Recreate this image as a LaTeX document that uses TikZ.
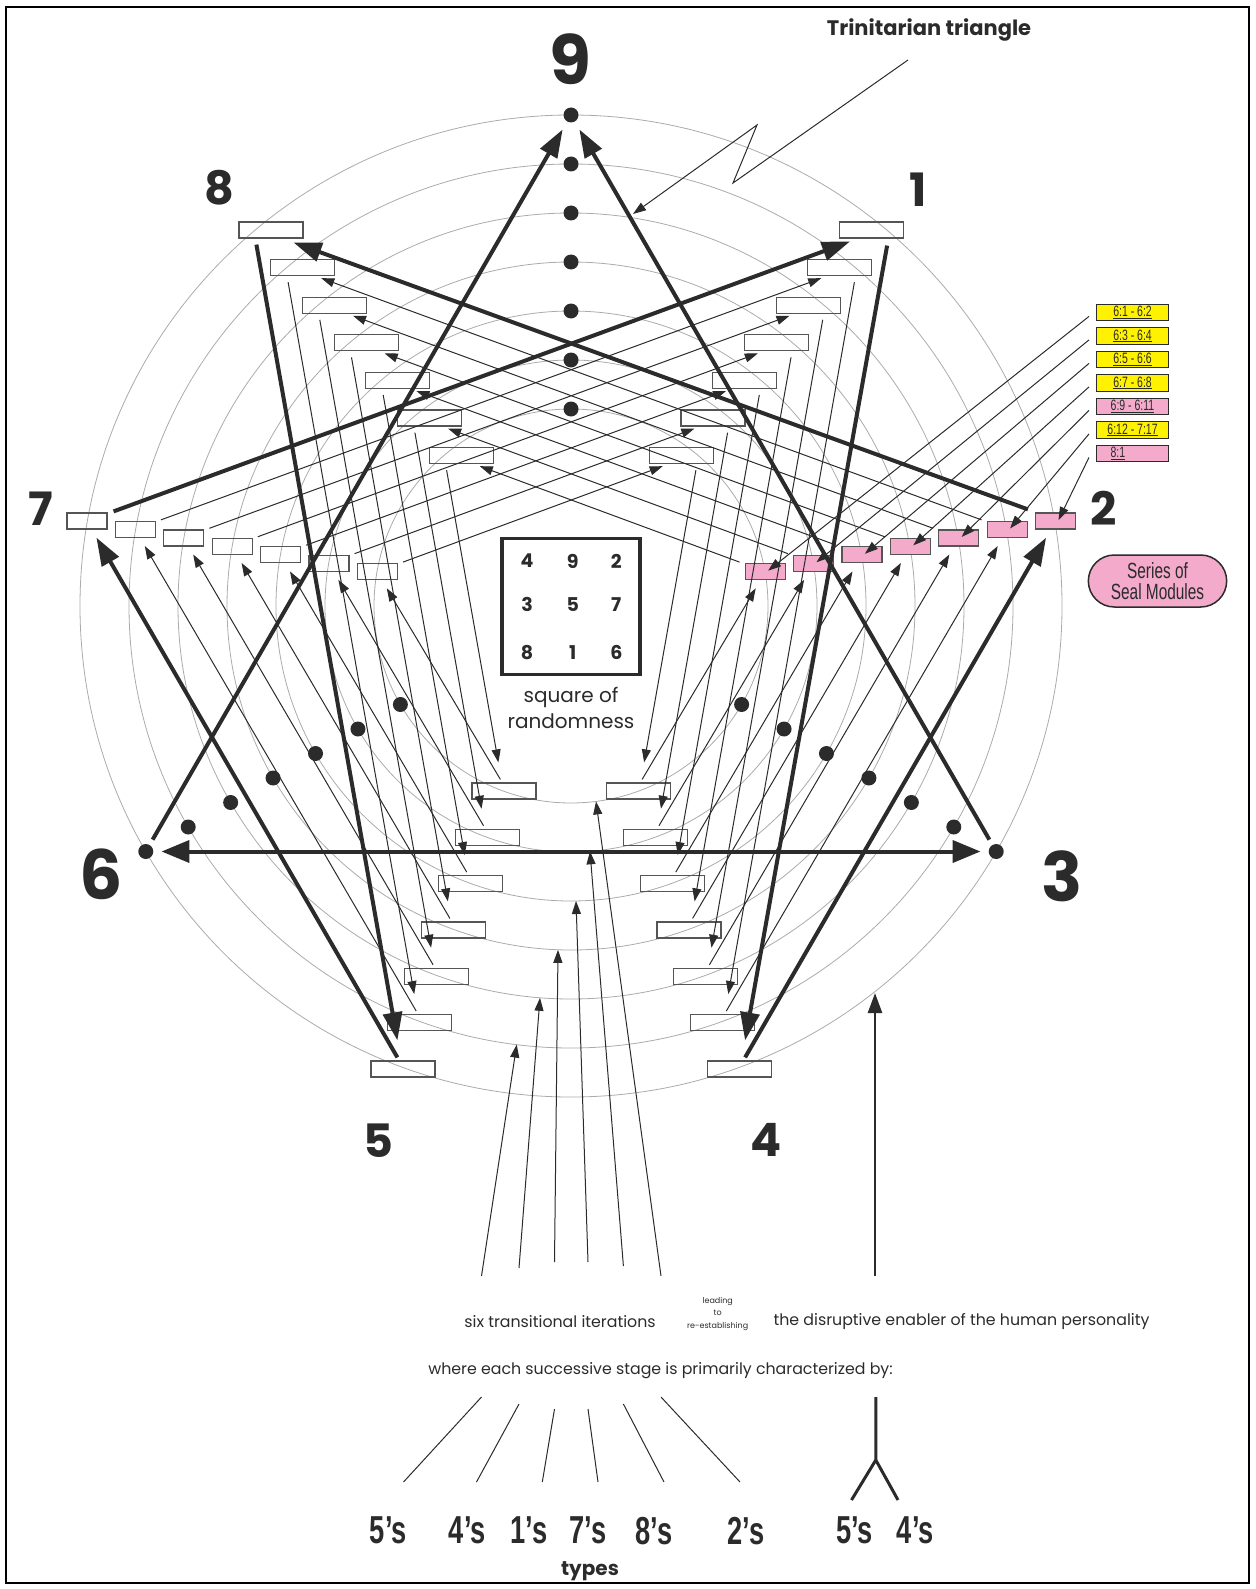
\documentclass[tikz,border=0pt]{standalone}
\usepackage{fontspec}
\setmainfont{Poppins}
\newfontfamily\narrowfont[FakeStretch=0.7]{Liberation Sans}
\usetikzlibrary{arrows.meta,calc,shapes.misc}

\definecolor{ink}{HTML}{2B2B2B}
\definecolor{ringgray}{HTML}{ABABAB}
\definecolor{sealpink}{HTML}{F4AACB}
\definecolor{verseyellow}{HTML}{FFF200}

\tikzset{
  ring/.style={draw=ringgray, line width=0.8pt},
  stagebox/.style={draw=ink!80, line width=1.2pt, inner sep=0pt, minimum height=16pt},
  sealbox/.style={stagebox, fill=sealpink},
  heavyarrow/.style={draw=ink, line width=4pt, -{Triangle[length=28pt,width=19pt]}},
  lightarrow/.style={draw=ink, line width=1pt, -{Triangle[length=13pt,width=9pt]}},
  rungdot/.style={circle, fill=ink, inner sep=0pt, minimum size=15pt},
  bignum/.style={text=ink, font=\fontsize{68}{68}\selectfont\bfseries},
  pointnum/.style={text=ink, font=\fontsize{46}{46}\selectfont\bfseries},
  versetag/.style={draw=ink, line width=1pt, inner sep=0pt, minimum width=72pt, minimum height=16.5pt, text=ink, font=\narrowfont\fontsize{15}{15}\selectfont},
  typelabel/.style={text=ink, font=\narrowfont\bfseries\fontsize{39}{39}\selectfont},
  caption/.style={text=ink, font=\fontsize{15.8}{15.8}\selectfont},
}

\begin{document}
\begin{tikzpicture}[x=1pt,y=-1pt]
    \useasboundingbox (0,0) rectangle (1255,1589);
    \draw[line width=2pt] (6,7) rectangle (1249,1583);
    \coordinate (C) at (571,606);

    % rings
    \foreach \k in {1,...,7}{
        \pgfmathsetmacro\r{491-49*(\k-1)}
        \draw[ring] (C) circle[radius=\r pt];
    }

    % stage boxes of 8/1, 7/2, 5/4
    \foreach \k in {1,...,7}{
        \pgfmathsetmacro\xa{271+31.7*(\k-1)}
        \pgfmathsetmacro\ya{230+37.6*(\k-1)}
        \node[stagebox, minimum width=64pt] (p8-\k) at (\xa,\ya) {};
        \node[stagebox, minimum width=64pt] (p1-\k) at ({1142.5-\xa},\ya) {};
        \pgfmathsetmacro\xb{87+48.4*(\k-1)}
        \pgfmathsetmacro\yb{521+8.45*(\k-1)}
        \node[stagebox, minimum width=40pt] (p7-\k) at (\xb,\yb) {};
        \node[sealbox, minimum width=40pt] (p2-\k) at ({1142.5-\xb},\yb) {};
        \pgfmathsetmacro\xc{403+16.83*(\k-1)}
        \pgfmathsetmacro\yc{1069-46.33*(\k-1)}
        \node[stagebox, minimum width=64pt] (p5-\k) at (\xc,\yc) {};
        \node[stagebox, minimum width=64pt] (p4-\k) at ({1142.5-\xc},\yc) {};
    }

    % hexad 1-4-2-8-5-7-1, thin iterations
    \foreach \k in {2,...,7}{
        \draw[lightarrow] ($(p8-\k.south west)+(18,6)$) -- ($(p5-\k.north west)+(27,-20)$);
        \draw[lightarrow] ($(p1-\k.south east)+(-18,6)$) -- ($(p4-\k.north east)+(-27,-20)$);
        \draw[lightarrow] ($(p5-\k.north west)+(29,-3)$) -- ($(p7-\k.south west)+(30,8)$);
        \draw[lightarrow] ($(p4-\k.north east)+(-29,-3)$) -- ($(p2-\k.south east)+(-30,8)$);
        \draw[lightarrow] ($(p7-\k.north east)+(5,-1)$) -- ($(p1-\k.south west)+(14,2)$);
        \draw[lightarrow] ($(p2-\k.north west)+(-5,-1)$) -- ($(p8-\k.south east)+(-14,2)$);
    }
    \draw[heavyarrow] ($(p8-1.south west)+(18,6)$) -- ($(p5-1.north west)+(27,-20)$);
    \draw[heavyarrow] ($(p1-1.south east)+(-17,7)$) -- ($(p4-1.north east)+(-27,-20)$);
    \draw[heavyarrow] ($(p5-1.north west)+(27,-3)$) -- ($(p7-1.south west)+(30,8)$);
    \draw[heavyarrow] ($(p4-1.north east)+(-27,-3)$) -- ($(p2-1.south east)+(-30,8)$);
    \draw[heavyarrow] ($(p7-1.north east)+(6,-1)$) -- ($(p1-1.south west)+(11,3)$);
    \draw[heavyarrow] ($(p2-1.north west)+(-7,-3)$) -- ($(p8-1.south east)+(-10,4)$);

    % dots of 9, 6 and 3
    \foreach \k in {1,...,7}{
        \pgfmathsetmacro\r{491-49*(\k-1)}
        \node[rungdot] (d9-\k) at ($(C)+(-90:\r)$) {};
        \node[rungdot] (d6-\k) at ($(C)+(150:\r)$) {};
        \node[rungdot] (d3-\k) at ($(C)+(30:\r)$) {};
    }

    % triangle 9-6-3
    \draw[heavyarrow, shorten <=6pt, shorten >=9pt] (d6-1) -- (d9-1);
    \draw[heavyarrow, shorten <=6pt, shorten >=9pt] (d3-1) -- (d9-1);
    \draw[heavyarrow, {Triangle[length=28pt,width=22pt]}-{Triangle[length=28pt,width=22pt]}, shorten <=8pt, shorten >=8pt] (d6-1) -- (d3-1);

    % numbers
    \node[bignum] (n9) at (570.7,58.8) {9};
    \node[bignum] (n6) at (101.4,873.8) {6};
    \node[bignum] (n3) at (1061.7,876.7) {3};
    \node[pointnum] (n8) at (219.3,187.3) {8};
    \node[pointnum] (n1) at (918.5,189.6) {1};
    \node[pointnum] (n7) at (41.3,508.8) {7};
    \node[pointnum] (n2) at (1103.3,508.3) {2};
    \node[pointnum] (n5) at (378,1140.4) {5};
    \node[pointnum] (n4) at (766.5,1140.4) {4};

    % trinitarian triangle
    \node[text=ink, font=\fontsize{21}{21}\selectfont\bfseries] (trin) at (929,30) {Trinitarian triangle};
    \coordinate (z0) at (908,60);
    \coordinate (z1) at (733,183);
    \coordinate (z2) at (757,125);
    \coordinate (z3) at (633,214);
    \draw[lightarrow] (z0) -- (z1) -- (z2) -- (z3);

    % square of randomness
    \node[draw=ink, line width=3.5pt, minimum width=138pt, minimum height=136pt, inner sep=0pt] (magic) at (571.2,606.3) {};
    \foreach \n/\x/\y in {4/527/561, 9/572.7/561, 2/616.3/561, 3/527/604.5, 5/572.7/604.5, 7/616.3/604.5, 8/527/652.5, 1/572.7/652.5, 6/616.3/652.5}
        \node[text=ink, font=\fontsize{19}{19}\selectfont\bfseries] (m\n) at (\x,\y) {\n};
    \node[text=ink, align=center, font=\fontsize{20}{26.5}\selectfont] (sqcap) at (571,708) {square of\\randomness};

    % seal module tags
    \foreach \t/\c [count=\i] in {6:1 - 6:2/verseyellow, 6:3 - 6:4/verseyellow, 6:5 - 6:6/verseyellow, 6:7 - 6:8/verseyellow, 6:9 - 6:11/sealpink, 6:12 - 7:17/verseyellow}{
        \node[versetag, fill=\c] (tag\i) at (1132.5,{312.4+23.5*(\i-1)}) {\underline{\t}};
    }
    \node[versetag, fill=sealpink, text width=44pt] (tag7) at (1132.5,453.4) {\underline{8:1}};
    \foreach \i in {1,...,7}{
        \pgfmathtruncatemacro\j{8-\i}
        \draw[lightarrow] ($(tag\i.west)+(-7,4)$) -- ($(p2-\j.center)+(3,-1)$);
    }
    \node[rounded rectangle, draw=ink, line width=1.5pt, fill=sealpink, minimum width=145pt, minimum height=52pt, align=center, text=ink, font=\narrowfont\fontsize{22}{21}\selectfont] (seal) at (1157.5,581) {Series of\\Seal Modules};

    % iterations pointing to the rings
    \foreach \i/\xs/\ys/\xe/\ye in {1/481.5/1276/516.7/1044.6, 2/519/1268/540/997.8, 3/554.5/1262/558/949.8, 4/588/1262/576/901, 5/623.4/1266/590/851.3, 6/661/1276/596/801.4}{
        \coordinate (is\i) at (\xs,\ys);
        \coordinate (ie\i) at (\xe,\ye);
        \draw[lightarrow] (is\i) -- (ie\i);
    }
    \coordinate (up0) at (875,1276);
    \coordinate (up1) at (875,993);
    \draw[draw=ink, line width=2.5pt, -{Triangle[length=20pt,width=14pt]}] (up0) -- (up1);

    % captions
    \node[caption] (iter) at (560,1322) {six transitional iterations};
    \node[text=ink, align=center, font=\fontsize{8}{12.5}\selectfont] (lead) at (717.7,1314) {leading\\to\\re-establishing};
    \node[caption] (enabler) at (961.5,1322) {the disruptive enabler of the human personality};
    \node[caption] (stage) at (660.5,1370.5) {where each successive stage is primarily characterized by:};

    % types
    \foreach \t/\x [count=\i] in {5/388.3, 4/467.3, 1/529.2, 7/588, 8/653.8, 2/746, 5/854.6, 4/915.4}
        \node[typelabel] (ty\i) at (\x,1530.7) {\t’s};
    \node[text=ink, font=\fontsize{20}{20}\selectfont\bfseries] (types) at (590,1571) {types};
    \foreach \i/\xt/\yt/\xb in {1/481.5/1397/403.5, 2/519/1404/476.5, 3/554.5/1409/542.3, 4/588/1409/598, 5/623.4/1404/664, 6/661/1397/740}{
        \coordinate (ft\i) at (\xt,\yt);
        \coordinate (fb\i) at (\xb,1482);
        \draw[draw=ink, line width=1pt] (ft\i) -- (fb\i);
    }
    \coordinate (yt) at (875.8,1397);
    \coordinate (yj) at (875.8,1460);
    \coordinate (yl) at (851.5,1500);
    \coordinate (yr) at (898,1500);
    \draw[draw=ink, line width=3pt] (yt) -- (yj) -- (yl) (yj) -- (yr);
\end{tikzpicture}
\end{document}
